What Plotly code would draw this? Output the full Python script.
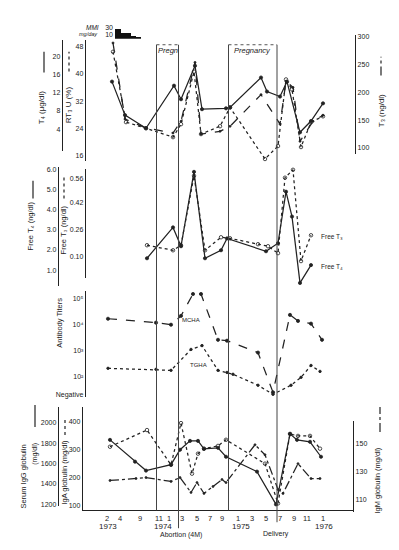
import plotly.graph_objects as go

W, H = 399, 550
ink = "#222222"
FONT = "Liberation Sans, DejaVu Sans"

# ---------------- time axis (custom, compressed) ----------------
tick_pos = [24, 37, 57, 76, 86, 99, 114, 127, 139, 155, 169, 183, 197, 211, 224, 240]
tick_months = ["2", "4", "9", "11", "1", "3", "5", "7", "9", "1", "3", "5", "7", "9", "11", "1"]
years = ["1973", "1974", "1975", "1976"]
year_pos = [25, 80, 158, 241]
preg_start = [73.5, 145.5]
preg_end = [95.5, 194]
preg_labels = ["Pregn", "Pregnancy"]

# ---------------- MMI dose (mg/day) ----------------
mmi_start = [32, 38, 48, 53]
mmi_end = [38, 48, 53, 58]
mmi_dose = [25, 15, 7.5, 4]

# ---------------- panel 1: T4, RT3U, T3 ----------------
t4_x = [29, 42, 63, 91, 98, 112, 119, 143, 147, 178, 184, 197, 204, 217, 228, 240]
t4_v = [14.5, 7.1, 4.2, 13.6, 10.6, 18.0, 8.4, 8.6, 8.8, 15.4, 12.3, 11.2, 14.5, 3.3, 5.8, 9.7]
rt3u_x = [30, 43, 63, 90, 98, 111, 118, 137, 147, 182, 195, 203, 209, 218, 228, 240]
rt3u_v = [46.5, 25.9, 24.1, 21.5, 25.3, 40.7, 22.4, 24.7, 30.2, 15.1, 18.9, 38.4, 35.5, 18.6, 25.9, 27.6]
t3_x = [30, 42, 63, 90, 98, 112, 118, 137, 147, 178, 197, 203, 210, 217, 230, 240]
t3_v = [289, 152, 136, 127, 148, 254, 125, 130, 139, 196, 143, 220, 209, 112, 148, 159]

# ---------------- panel 2: free T4 / free T3 ----------------
ft4_x = [64, 90, 98, 111, 122, 138, 144, 183, 195, 203, 209, 217, 228]
ft4_v = [1.59, 3.13, 2.19, 5.90, 1.59, 1.99, 2.58, 1.94, 2.34, 4.91, 3.67, 0.36, 1.25]
ft3_x = [64, 90, 98, 111, 122, 138, 147, 175, 185, 195, 202, 210, 218, 228]
ft3_v = [0.165, 0.135, 0.165, 0.576, 0.135, 0.212, 0.206, 0.171, 0.159, 0.118, 0.565, 0.612, 0.071, 0.224]

# ---------------- panel 3: antibody titers ----------------
mcha_x = [25, 73, 88, 98, 110, 118, 135, 144, 175, 190, 207, 215, 228, 239]
mcha_v = [17000, 12000, 10000, 22000, 155000, 155000, 2600, 2400, 830, 24, 24000, 14000, 11000, 2600]
tgha_x = [25, 73, 88, 108, 119, 135, 144, 150, 175, 190, 208, 218, 228, 237]
tgha_v = [204, 186, 170, 1100, 1550, 170, 141, 120, 45, 20, 45, 91, 263, 155]

# ---------------- panel 4: immunoglobulins ----------------
igg_x = [27, 52, 63, 88, 97, 107, 115, 121, 135, 143, 174, 193, 207, 214, 227, 238]
igg_v = [1834, 1620, 1532, 1590, 1737, 1824, 1824, 1746, 1756, 1668, 1522, 1200, 1893, 1834, 1815, 1668]
iga_x = [27, 64, 88, 98, 109, 115, 121, 135, 143, 182, 195, 207, 215, 227, 237]
iga_v = [311, 371, 246, 396, 214, 286, 304, 314, 336, 250, 107, 357, 350, 350, 304]
igm_x = [27, 53, 63, 88, 97, 108, 114, 121, 130, 139, 143, 172, 182, 195, 200, 215, 228, 237]
igm_v = [123.6, 125, 125.7, 122.9, 125.7, 115, 122.1, 114.3, 119.3, 124.3, 122.1, 149.3, 142.1, 117.1, 114.3, 135.7, 125, 125]


def py(p):
    return 1 - p / H


def px(p):
    return p / W


def series(x, y, yaxis, dash, symbol="circle", size=3.2, width=1.25):
    return go.Scatter(
        x=x, y=y, xaxis="x", yaxis=yaxis, mode="lines+markers",
        line=dict(color=ink, width=width, dash=dash),
        marker=dict(symbol=symbol, size=size, color=ink, line=dict(color=ink, width=0.8)),
        showlegend=False, hoverinfo="skip", cliponaxis=False,
    )


fig = go.Figure()
fig.add_trace(go.Bar(
    x=[(a + b) / 2 for a, b in zip(mmi_start, mmi_end)],
    width=[b - a for a, b in zip(mmi_start, mmi_end)],
    y=mmi_dose, xaxis="x", yaxis="y10", marker=dict(color="#111", line=dict(width=0)),
    showlegend=False, hoverinfo="skip"))

fig.add_trace(series(t4_x, t4_v, "y7", "solid"))
fig.add_trace(series(rt3u_x, rt3u_v, "y8", "dot", "circle-open", 3.5))
fig.add_trace(series(t3_x, t3_v, "y9", "dash", "circle", 2))

fig.add_trace(series(ft4_x, ft4_v, "y5", "solid"))
fig.add_trace(series(ft3_x, ft3_v, "y6", "dot", "circle-open", 3.5))

fig.add_trace(series(mcha_x, mcha_v, "y4", "dash"))
fig.add_trace(series(tgha_x, tgha_v, "y4", "dot", "circle", 2.5))

fig.add_trace(series(igg_x, igg_v, "y2", "solid"))
fig.add_trace(series(iga_x, iga_v, "y", "dot", "circle-open", 3.5))
fig.add_trace(series(igm_x, igm_v, "y3", "dashdot", "circle", 2))


def yax(dom, rng, pos, tv, tt, side="left", log=False, anchor="free", line=True):
    d = dict(domain=[py(dom[1]), py(dom[0])], range=rng, side=side,
             showline=line, linecolor=ink, linewidth=1.4, ticks="",
             tickvals=tv, ticktext=tt, tickfont=dict(size=7, color=ink, family=FONT),
             showgrid=False, zeroline=False, type="log" if log else "linear",
             fixedrange=True)
    if anchor == "free":
        d.update(anchor="free", position=px(pos))
    else:
        d.update(anchor=anchor)
    return d


layout = dict(
    width=W, height=H, margin=dict(l=0, r=0, t=0, b=0),
    paper_bgcolor="white", plot_bgcolor="rgba(0,0,0,0)",
    font=dict(family=FONT, color=ink, size=7),
    bargap=0,
    xaxis=dict(domain=[px(75), px(345)], range=[0, 270], anchor="y",
               showline=True, linecolor=ink, linewidth=1.4, ticks="",
               tickvals=tick_pos, ticktext=tick_months, tickfont=dict(size=7.5),
               showgrid=False, zeroline=False, fixedrange=True),
    yaxis=yax((400, 504), [82.1, 453.6], 75, [100, 200, 300, 400], ["100", "200", "300", "400"], anchor="x"),
    yaxis2=yax((400, 500), [1180.5, 2156], 50, [1200, 1400, 1600, 1800, 2000],
               ["1200", "1400", "1600", "1800", "2000"]),
    yaxis3=yax((414, 506), [100.7, 166.4], 345, [110, 130, 150], ["110", "130", "150"], side="right"),
    yaxis4=yax((283, 390), [1.192, 5.308], 77, [20, 100, 1000, 10000, 100000],
               ["Negative", "10²", "10³", "10⁴", "10⁵"], log=True),
    yaxis5=yax((158, 278), [0.208, 6.149], 50, [1, 2, 3, 4, 5, 6], ["1.0", "2.0", "3.0", "4.0", "5.0", "6.0"]),
    yaxis6=yax((160, 270), [-0.0294, 0.6176], 77, [0.10, 0.26, 0.42, 0.56], ["0.10", "0.26", "0.42", "0.56"]),
    yaxis7=yax((30, 142), [-0.825, 23.74], 54, [4, 8, 12, 16, 20], ["4", "8", "12", "16", "20"]),
    yaxis8=yax((30, 152), [14.55, 50.01], 77, [16, 24, 32, 40, 48], ["16", "24", "32", "40", "48"]),
    yaxis9=yax((25, 145), [89.3, 303.6], 347, [100, 150, 200, 250, 300], ["100", "150", "200", "250", "300"], side="right"),
    yaxis10=yax((14, 29), [0, 39], 105, [10, 30], ["10", "30"], line=False),
)
fig.update_layout(**layout)

shapes = []
# pregnancy boxes and event lines
for s, e in zip(preg_start, preg_end):
    shapes.append(dict(type="line", xref="x", yref="paper", x0=s, x1=e, y0=py(35), y1=py(35),
                       line=dict(color="#555", width=1, dash="dot")))
bottoms = [504, 522, 504, 516]
for xv, b in zip([preg_start[0], preg_end[0], preg_start[1], preg_end[1]], bottoms):
    shapes.append(dict(type="line", xref="x", yref="paper", x0=xv, x1=xv, y0=py(b), y1=py(35),
                       line=dict(color="#444", width=1)))


# legend keys next to axis titles (paper coords)
def key(xp, y0, y1, dash):
    shapes.append(dict(type="line", xref="paper", yref="paper", x0=px(xp), x1=px(xp),
                       y0=py(y1), y1=py(y0), line=dict(color=ink, width=1.2, dash=dash)))


key(36, 42, 63, "solid")
key(61, 42, 62, "dot")
key(373, 47, 66, "dashdot")
key(25, 172, 190, "solid")
key(56, 166, 190, "dot")
key(27, 398, 420, "solid")
key(57, 410, 428, "dot")
key(372, 400, 425, "dashdot")
fig.update_layout(shapes=shapes)

ann = []


def text(xp, yp, s, size=7, angle=0, xanchor="center", xref="paper", italic=False):
    ann.append(dict(x=(xp if xref == "x" else px(xp)), y=py(yp), xref=xref, yref="paper",
                    text=(f"<i>{s}</i>" if italic else s),
                    showarrow=False, textangle=angle, xanchor=xanchor, yanchor="middle",
                    font=dict(size=size, color=ink, family=FONT)))


# axis titles
text(33, 98, "T₄ (μg/dl)", 8, -90)
text(60, 96, "RT₃ U (%)", 8, -90)
text(373, 102, "T₃ (ng/dl)", 8, -90)
text(22, 218, "Free T₄ (ng/dl)", 7.5, -90)
text(55, 222, "Free T₃ (ng/dl)", 7.5, -90)
text(52, 315, "Antibody Titers", 7.5, -90)
text(16, 470, "Serum IgG globulin", 7.5, -90)
text(27, 447, "(mg/dl)", 7, -90)
text(57, 466, "IgA globulin (mg/dl)", 7.5, -90)
text(370, 474, "IgM globulin (mg/dl)", 7.5, -90)
# MMI
text(93, 17.5, "MMI", 6.5, xanchor="right", italic=True)
text(92, 24.5, "mg/day", 5.5, xanchor="right", italic=True)
# pregnancy labels
for s, e, lab in zip(preg_start, preg_end, preg_labels):
    text((s + e) / 2, 41, lab, 7.5, xref="x", italic=True)
# series labels
text(108, 312, "MCHA", 6, xref="x")
text(115, 358, "TGHA", 6, xref="x")
text(236, 228, "Free T₃", 6.5, xref="x", xanchor="left")
text(236, 258, "Free T₄", 6.5, xref="x", xanchor="left")
# years and events
for yl, yx in zip(years, year_pos):
    text(yx, 520, yl, 8, xref="x")
text(98, 529, "Abortion (4M)", 7, xref="x")
text(193, 528, "Delivery", 7, xref="x")
fig.update_layout(annotations=ann)

fig.write_html("out.html")
